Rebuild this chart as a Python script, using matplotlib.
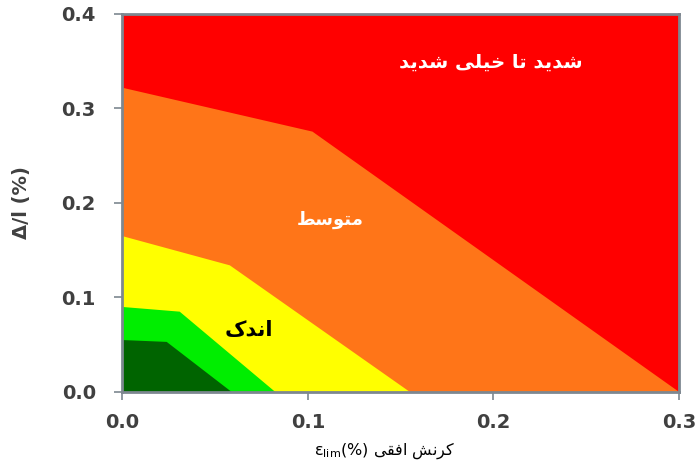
import matplotlib
matplotlib.use("Agg")
import matplotlib.pyplot as plt

# ---- data ----
# boundaries (x in %, y in %) between zones, listed from top zone to bottom zone
red_orange_x = [0.0, 0.1025, 0.3]
red_orange_y = [0.322, 0.2755, 0.0]
orange_yellow_x = [0.0, 0.058, 0.155]
orange_yellow_y = [0.165, 0.134, 0.0]
yellow_lgreen_x = [0.0, 0.031, 0.0825]
yellow_lgreen_y = [0.090, 0.085, 0.0]
lgreen_dgreen_x = [0.0, 0.024, 0.059]
lgreen_dgreen_y = [0.055, 0.053, 0.0]

zone_colors = ["#FF0000", "#FF7518", "#FFFF00", "#00EE00", "#006400"]

labels_text = ["شدید تا خیلی شدید", "متوسط", "اندک"]
labels_x = [0.1985, 0.112, 0.068]
labels_y = [0.349, 0.182, 0.0656]
labels_color = ["white", "white", "black"]
labels_size = [14, 13, 15]

xticks = [0.0, 0.1, 0.2, 0.3]
yticks = [0.0, 0.1, 0.2, 0.3, 0.4]
xlabel_fa = "کرنش افقی"

# ---- minimal Arabic/Persian shaping (matplotlib has no RTL shaping) ----
FORMS = {
    "ا": ("\uFE8D", "\uFE8E", None, None),
    "ت": ("\uFE95", "\uFE96", "\uFE97", "\uFE98"),
    "خ": ("\uFEA5", "\uFEA6", "\uFEA7", "\uFEA8"),
    "د": ("\uFEA9", "\uFEAA", None, None),
    "ر": ("\uFEAD", "\uFEAE", None, None),
    "س": ("\uFEB1", "\uFEB2", "\uFEB3", "\uFEB4"),
    "ش": ("\uFEB5", "\uFEB6", "\uFEB7", "\uFEB8"),
    "ط": ("\uFEC1", "\uFEC2", "\uFEC3", "\uFEC4"),
    "ف": ("\uFED1", "\uFED2", "\uFED3", "\uFED4"),
    "ق": ("\uFED5", "\uFED6", "\uFED7", "\uFED8"),
    "ل": ("\uFEDD", "\uFEDE", "\uFEDF", "\uFEE0"),
    "م": ("\uFEE1", "\uFEE2", "\uFEE3", "\uFEE4"),
    "ن": ("\uFEE5", "\uFEE6", "\uFEE7", "\uFEE8"),
    "و": ("\uFEED", "\uFEEE", None, None),
    "ی": ("\uFBFC", "\uFBFD", "\uFBFE", "\uFBFF"),
    "ک": ("\uFB8E", "\uFB8F", "\uFB90", "\uFB91"),
}


def dual(c):
    return c in FORMS and FORMS[c][2] is not None


def shape(text):
    out = []
    n = len(text)
    for i, c in enumerate(text):
        if c not in FORMS:
            out.append(c)
            continue
        prev_joins = i > 0 and dual(text[i - 1])
        next_joins = dual(c) and i < n - 1 and text[i + 1] in FORMS
        iso, fin, ini, med = FORMS[c]
        if prev_joins and next_joins:
            out.append(med)
        elif prev_joins:
            out.append(fin)
        elif next_joins:
            out.append(ini)
        else:
            out.append(iso)
    return "".join(out)[::-1]


plt.rcParams["font.family"] = ["DejaVu Sans"]

fig = plt.figure(figsize=(6.98, 4.65), dpi=100)
ax = fig.add_axes([0.175, 0.157, 0.798, 0.813])

xmax, ymax = 0.3, 0.4
ax.set_xlim(0, xmax)
ax.set_ylim(0, ymax)

# zones: draw from top to bottom
ax.fill([0, xmax, xmax, 0], [0, 0, ymax, ymax], color=zone_colors[0], lw=0, zorder=1)
bounds = [(red_orange_x, red_orange_y), (orange_yellow_x, orange_yellow_y),
          (yellow_lgreen_x, yellow_lgreen_y), (lgreen_dgreen_x, lgreen_dgreen_y)]
for k, (bx, by) in enumerate(bounds):
    px = [0.0] + list(bx) + [bx[-1]]
    py = [0.0] + list(by) + [0.0]
    ax.fill(px, py, color=zone_colors[k + 1], lw=0, zorder=2 + k)

for t, x, y, c, fs in zip(labels_text, labels_x, labels_y, labels_color, labels_size):
    ax.text(x, y, shape(t), color=c, fontsize=fs, fontweight="bold",
            ha="center", va="center", zorder=10)

for s in ax.spines.values():
    s.set_color("#7d8790")
    s.set_linewidth(2)
    s.set_zorder(20)

ax.set_xticks(xticks)
ax.set_yticks(yticks)
ax.set_xticklabels([f"{v:.1f}" for v in xticks])
ax.set_yticklabels([f"{v:.1f}" for v in yticks])
ax.tick_params(direction="out", length=6, width=1.2, color="#7d8790",
               labelsize=14, labelcolor="#404040", pad=9)
ax.tick_params(axis="y", pad=13)
for lab in ax.get_xticklabels() + ax.get_yticklabels():
    lab.set_fontweight("bold")

ax.set_ylabel("Δ/l (%)", fontsize=14, fontweight="bold", color="#404040", labelpad=22)
fig.text(385 / 698, 1 - 451 / 465,
         r"$\mathregular{ε_{lim}}$(%) " + shape(xlabel_fa),
         ha="center", va="center", fontsize=11.5, color="black")

fig.savefig("out.png", dpi=100)
